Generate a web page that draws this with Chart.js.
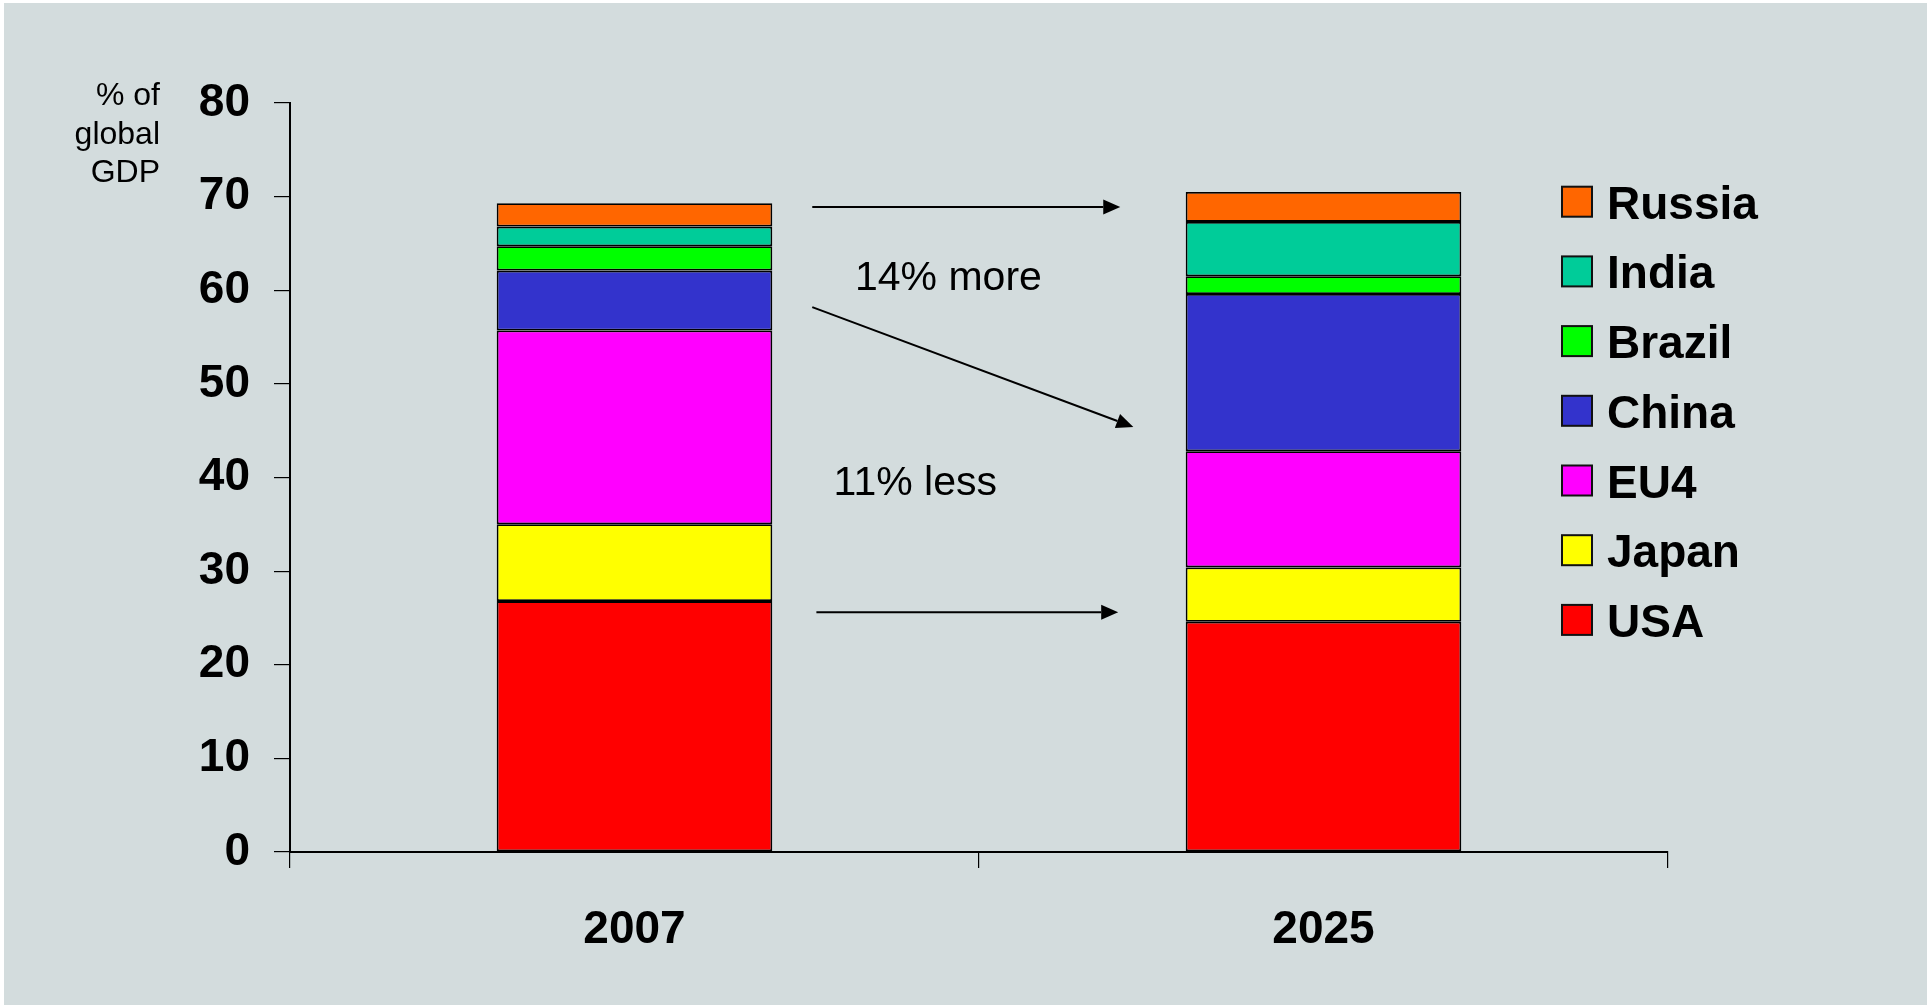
<!DOCTYPE html>
<html>
<head>
<meta charset="utf-8">
<script src="https://cdn.jsdelivr.net/npm/chart.js@4/dist/chart.umd.min.js"></script>
<style>
  html, body { margin: 0; padding: 0; background: #ffffff; }
  canvas { display: block; }
</style>
</head>
<body>
<canvas id="c" width="1927" height="1005"></canvas>
<script>
// ---- data ----
const categories = ['2007', '2025'];
const seriesNames = ['USA', 'Japan', 'EU4', 'China', 'Brazil', 'India', 'Russia'];
const usa    = [26.8, 24.6];
const japan  = [8.2, 5.8];
const eu4    = [20.7, 12.4];
const china  = [6.4, 16.8];
const brazil = [2.6, 1.9];
const india  = [2.1, 5.8];
const russia = [2.5, 3.2];
const yTitleLines = ['% of', 'global', 'GDP'];
const noteTexts = ['14% more', '11% less'];

const seriesValues = [usa, japan, eu4, china, brazil, india, russia];
const seriesColors = ['#FF0000', '#FFFF00', '#FF00FF', '#3333CC', '#00FF00', '#00CC99', '#FF6600'];

const FONT = '"Liberation Sans", Arial, Helvetica, sans-serif';
const BG = '#D3DCDD';

const bgPlugin = {
  id: 'bg',
  beforeDraw(chart) {
    const ctx = chart.ctx;
    ctx.save();
    ctx.fillStyle = '#ffffff';
    ctx.fillRect(0, 0, chart.width, chart.height);
    ctx.fillStyle = BG;
    ctx.fillRect(4, 3, chart.width - 4, chart.height - 3);
    ctx.restore();
  }
};

function arrow(ctx, x1, y1, x2, y2) {
  const ang = Math.atan2(y2 - y1, x2 - x1);
  const len = 17, hw = 7.5;
  const bx = x2 - len * Math.cos(ang), by = y2 - len * Math.sin(ang);
  ctx.beginPath();
  ctx.moveTo(x1, y1);
  ctx.lineTo(bx, by);
  ctx.stroke();
  ctx.beginPath();
  ctx.moveTo(x2, y2);
  ctx.lineTo(bx + hw * Math.sin(ang), by - hw * Math.cos(ang));
  ctx.lineTo(bx - hw * Math.sin(ang), by + hw * Math.cos(ang));
  ctx.closePath();
  ctx.fill();
}

const annotPlugin = {
  id: 'annot',
  afterDraw(chart) {
    const ctx = chart.ctx;
    const xs = chart.scales.x, ys = chart.scales.y;
    const X = v => xs.getPixelForValue(v);
    const Y = v => ys.getPixelForValue(v);
    ctx.save();
    // y title
    ctx.fillStyle = '#000';
    ctx.font = '32px ' + FONT;
    ctx.textAlign = 'right';
    ctx.textBaseline = 'alphabetic';
    const tRight = 160, tBase = 105, tStep = 38.7;
    yTitleLines.forEach((t, i) => ctx.fillText(t, tRight, tBase + i * tStep));

    // arrows
    ctx.strokeStyle = '#000';
    ctx.fillStyle = '#000';
    ctx.lineWidth = 2;
    arrow(ctx, X(0.258), Y(68.9), X(0.705), Y(68.9));
    arrow(ctx, X(0.258), Y(58.2), X(0.724), Y(45.4));
    arrow(ctx, X(0.264), Y(25.6), X(0.702), Y(25.6));

    // notes
    ctx.font = '41px ' + FONT;
    ctx.textAlign = 'left';
    ctx.fillText(noteTexts[0], X(0.32), Y(60.0));
    ctx.fillText(noteTexts[1], X(0.289), Y(38.1));

    // legend
    const ds = chart.data.datasets;
    const lx = 1562, lTop = 201.7, lStep = 69.7, bw = 30, bh = 30;
    ctx.font = 'bold 46px ' + FONT;
    ctx.textAlign = 'left';
    ctx.textBaseline = 'alphabetic';
    for (let i = 0; i < ds.length; i++) {
      const d = ds[ds.length - 1 - i];
      const cy = lTop + i * lStep;
      ctx.fillStyle = d.backgroundColor;
      ctx.fillRect(lx, cy - bh / 2, bw, bh);
      ctx.strokeStyle = '#111';
      ctx.lineWidth = 2;
      ctx.strokeRect(lx, cy - bh / 2, bw, bh);
      ctx.fillStyle = '#000';
      ctx.fillText(d.label, 1607, cy + 17);
    }
    ctx.restore();
  }
};

new Chart(document.getElementById('c'), {
  type: 'bar',
  data: {
    labels: categories,
    datasets: seriesNames.map((n, i) => ({
      label: n,
      data: seriesValues[i],
      backgroundColor: seriesColors[i],
      borderColor: '#000000',
      borderWidth: 1.8,
      borderSkipped: false,
      categoryPercentage: 1.0,
      barPercentage: 0.4
    }))
  },
  options: {
    responsive: false,
    devicePixelRatio: 1,
    animation: false,
    layout: { padding: { left: 0, right: 259, top: 103, bottom: 0 } },
    plugins: {
      legend: { display: false },
      tooltip: { enabled: false },
      title: { display: false }
    },
    scales: {
      x: {
        stacked: true,
        afterFit(s) { s.height = 153; },
        grid: {
          offset: true,
          drawOnChartArea: false,
          drawTicks: true,
          tickLength: 16,
          color: '#000',
          lineWidth: 1.2
        },
        border: { display: true, color: '#000', width: 2 },
        ticks: {
          color: '#000',
          padding: 35,
          font: { family: FONT, size: 46, weight: 'bold' }
        }
      },
      y: {
        stacked: true,
        min: 0,
        max: 80,
        afterFit(s) { s.width = 290; },
        grid: {
          drawOnChartArea: false,
          drawTicks: true,
          tickLength: 16,
          color: '#000',
          lineWidth: 1.2
        },
        border: { display: true, color: '#000', width: 2 },
        ticks: {
          stepSize: 10,
          color: '#000',
          padding: 24,
          font: { family: FONT, size: 46, weight: 'bold' }
        }
      }
    }
  },
  plugins: [bgPlugin, annotPlugin]
});
</script>
</body>
</html>
